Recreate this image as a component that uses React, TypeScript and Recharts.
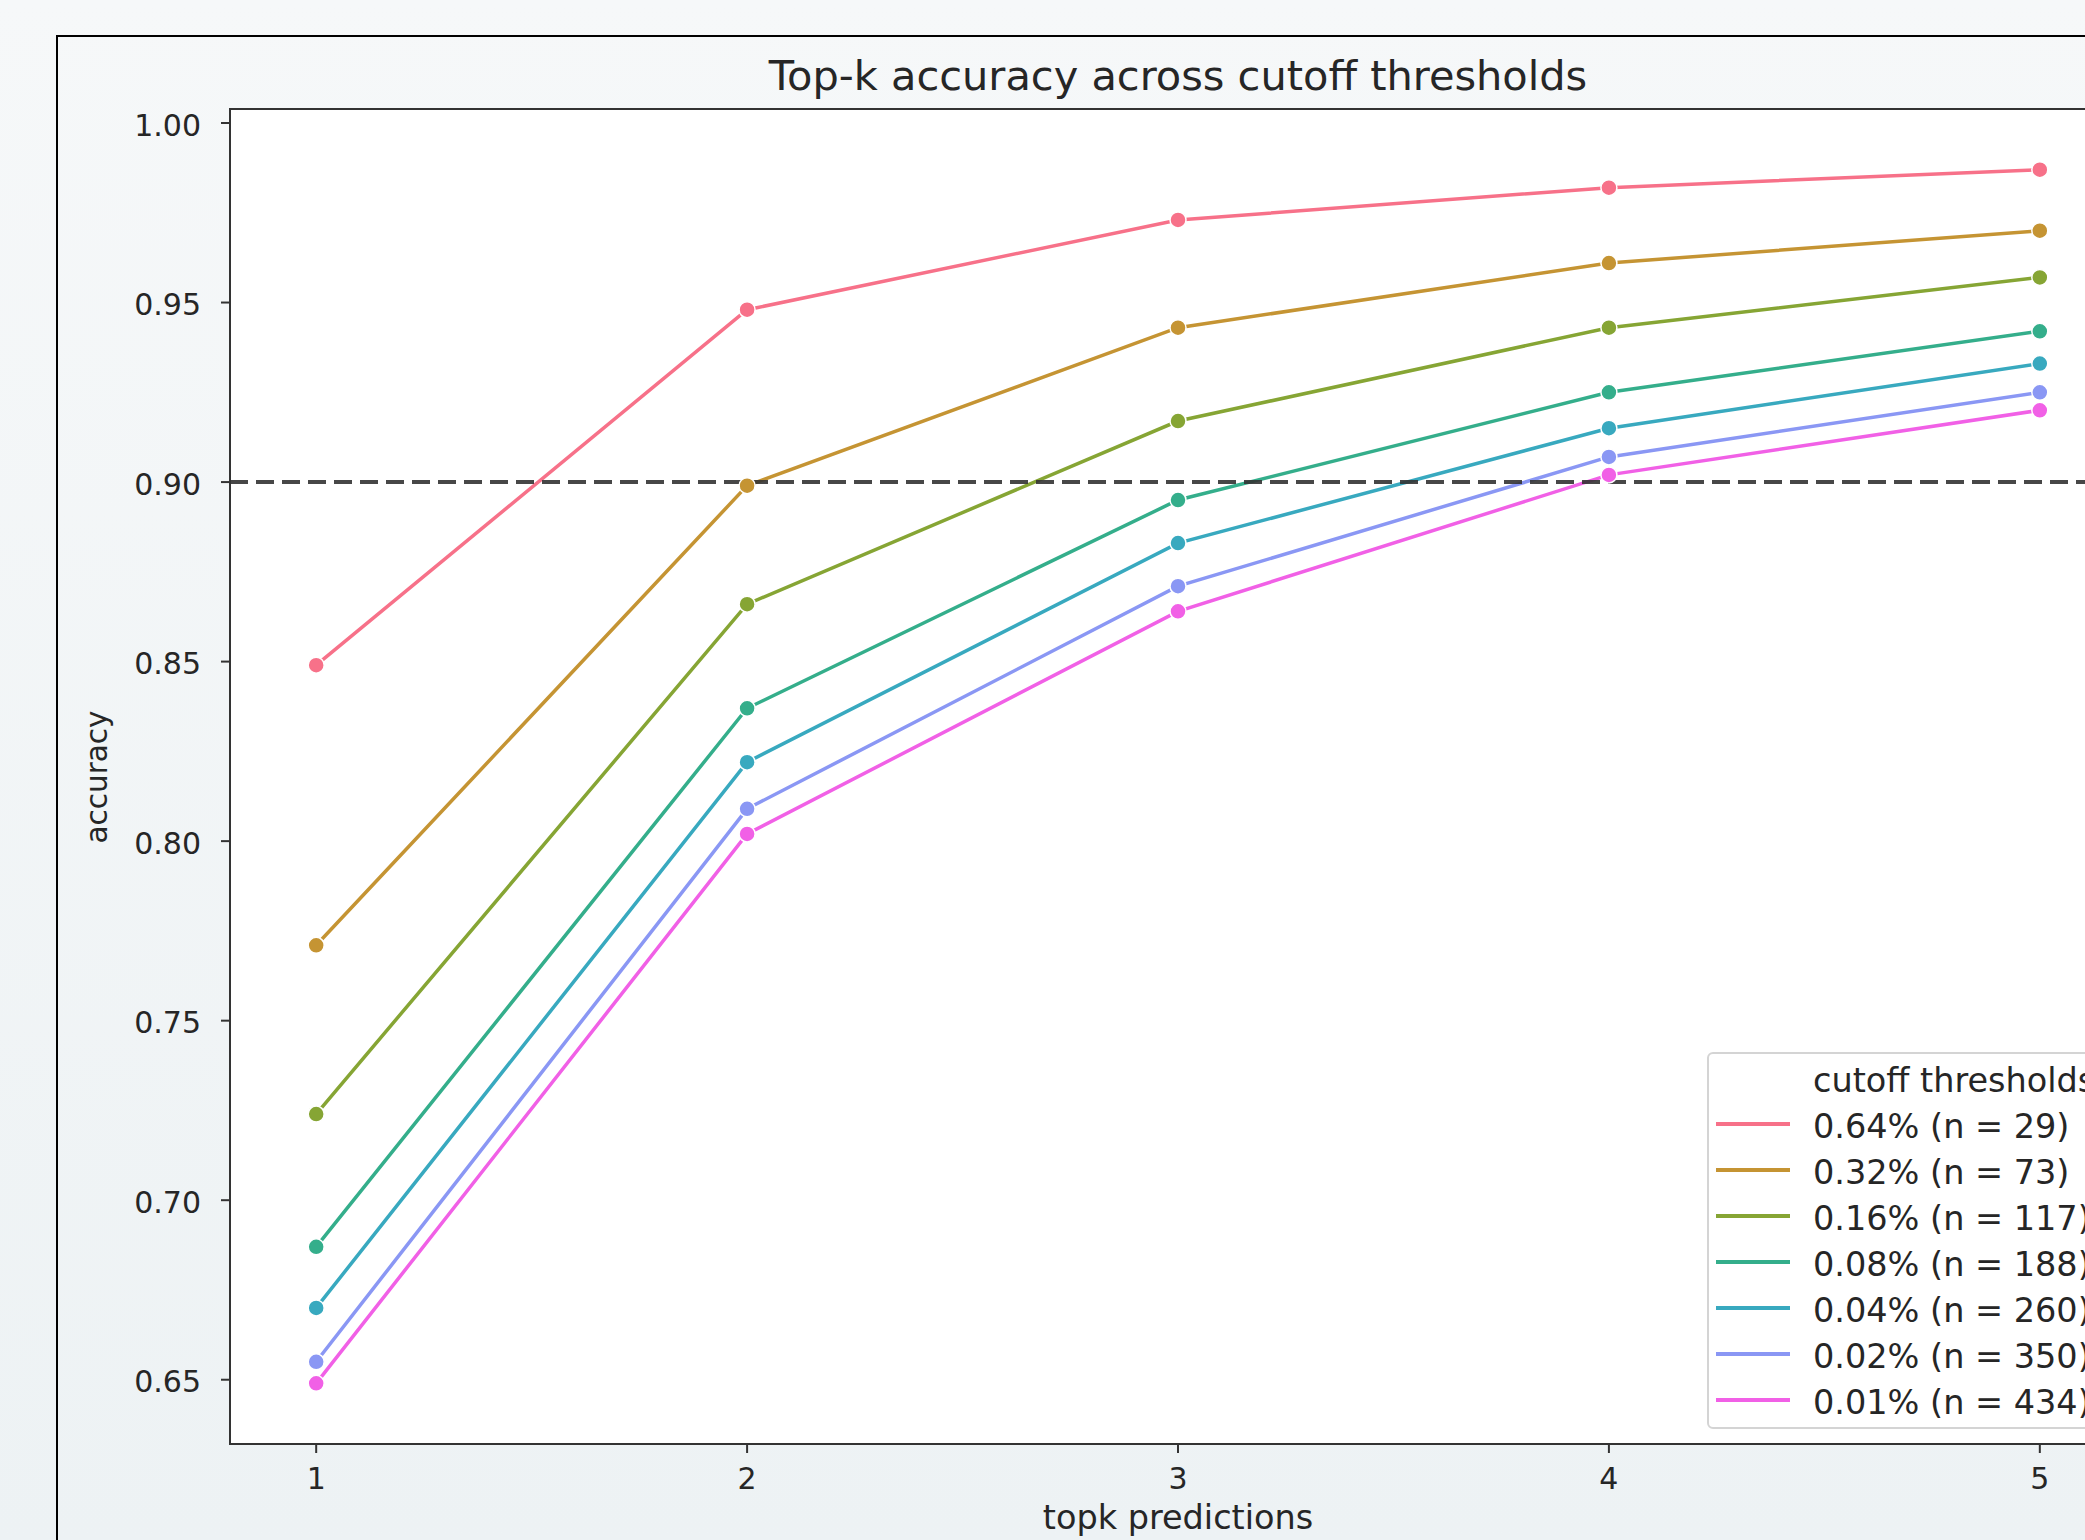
import { Line, LineChart, ReferenceLine, XAxis, YAxis } from 'recharts'

const topk = [1, 2, 3, 4, 5]
const acc064 = [0.849, 0.948, 0.973, 0.982, 0.987]
const acc032 = [0.771, 0.899, 0.943, 0.961, 0.970]
const acc016 = [0.724, 0.866, 0.917, 0.943, 0.957]
const acc008 = [0.687, 0.837, 0.895, 0.925, 0.942]
const acc004 = [0.670, 0.822, 0.883, 0.915, 0.933]
const acc002 = [0.655, 0.809, 0.871, 0.907, 0.925]
const acc001 = [0.649, 0.802, 0.864, 0.902, 0.920]
const thresholdLabels = [
  '0.64% (n = 29)',
  '0.32% (n = 73)',
  '0.16% (n = 117)',
  '0.08% (n = 188)',
  '0.04% (n = 260)',
  '0.02% (n = 350)',
  '0.01% (n = 434)',
]
const yTicks = [0.65, 0.7, 0.75, 0.8, 0.85, 0.9, 0.95, 1.0]
const targetAccuracy = 0.9

const FONT = 'DejaVu Sans'
const TEXT = '#262626'

const series = [
  { key: 't064', values: acc064, color: '#f77189' },
  { key: 't032', values: acc032, color: '#c59433' },
  { key: 't016', values: acc016, color: '#86a534' },
  { key: 't008', values: acc008, color: '#34ae8b' },
  { key: 't004', values: acc004, color: '#38a9bf' },
  { key: 't002', values: acc002, color: '#8a97f4' },
  { key: 't001', values: acc001, color: '#f160e6' },
]

const data = topk.map((k, i) => {
  const row: Record<string, number> = { k }
  series.forEach((s) => {
    row[s.key] = s.values[i]
  })
  return row
})

// legend box runs past the right edge of the screenshot, like the reference
function ThresholdLegend() {
  return (
    <div
      style={{
        position: 'absolute',
        left: 1707,
        top: 1052,
        width: 500,
        height: 377,
        boxSizing: 'border-box',
        border: '2px solid #d4d4d4',
        borderRadius: 6,
        background: 'rgba(255,255,255,0.85)',
        paddingTop: 3,
        fontFamily: FONT,
        fontSize: 33.5,
        color: TEXT,
        whiteSpace: 'nowrap',
      }}
    >
      <div style={{ height: 46, display: 'flex', alignItems: 'center', paddingLeft: 104 }}>cutoff thresholds</div>
      {series.map((s, i) => (
        <div key={s.key} style={{ height: 46, display: 'flex', alignItems: 'center' }}>
          <span style={{ marginLeft: 7, width: 74, height: 4, background: s.color, marginTop: -4 }} />
          <span style={{ marginLeft: 23 }}>{thresholdLabels[i]}</span>
        </div>
      ))}
    </div>
  )
}

export default function App() {
  return (
    <div
      style={{
        position: 'fixed',
        left: 0,
        top: 0,
        width: 2085,
        height: 1540,
        overflow: 'hidden',
        background: 'linear-gradient(to bottom, #f6f8f9, #edf2f4)',
      }}
    >
      {/* outer frame, cut off at right and bottom */}
      <div style={{ position: 'absolute', left: 56, top: 35, width: 2200, height: 1600, borderLeft: '2px solid #000', borderTop: '2px solid #000' }} />
      {/* plot area with spines */}
      <div style={{ position: 'absolute', left: 229, top: 108, width: 2000, height: 1337, boxSizing: 'border-box', background: '#fff', border: '2px solid #333' }} />

      <div style={{ position: 'absolute', left: 0, top: 0 }}>
        <LineChart width={2200} height={1540} data={data} margin={{ top: 109, right: 74, bottom: 0, left: 0 }}>
          <XAxis
            type="number"
            dataKey="k"
            domain={[0.8, 5.2]}
            ticks={topk}
            allowDataOverflow
            axisLine={false}
            tickLine={{ stroke: '#333', strokeWidth: 2 }}
            tickSize={9}
            tickMargin={15}
            height={96}
            tick={{ fill: TEXT, fontSize: 30, fontFamily: FONT }}
          />
          <YAxis
            type="number"
            domain={[0.6321, 1.0039]}
            ticks={yTicks}
            allowDataOverflow
            tickFormatter={(v: number) => v.toFixed(2)}
            axisLine={false}
            tickLine={{ stroke: '#333', strokeWidth: 2 }}
            tickSize={9}
            tickMargin={20}
            width={230}
            tick={{ fill: TEXT, fontSize: 30, fontFamily: FONT, dy: 2 }}
          />
          {series.map((s) => (
            <Line
              key={s.key}
              dataKey={s.key}
              stroke={s.color}
              strokeWidth={3.5}
              dot={{ r: 8, fill: s.color, stroke: '#fff', strokeWidth: 1.5 }}
              isAnimationActive={false}
            />
          ))}
          <ReferenceLine y={targetAccuracy} stroke="#333" strokeOpacity={0.9} strokeWidth={4} strokeDasharray="18 8" />
        </LineChart>
      </div>

      <svg width={2085} height={1540} style={{ position: 'absolute', left: 0, top: 0, pointerEvents: 'none' }}>
        <text x={1178} y={90} textAnchor="middle" fontFamily={FONT} fontSize={41.5} fill={TEXT}>
          Top-k accuracy across cutoff thresholds
        </text>
        <text x={1178} y={1529} textAnchor="middle" fontFamily={FONT} fontSize={33.5} fill={TEXT}>
          topk predictions
        </text>
        <text
          x={97}
          y={777}
          textAnchor="middle"
          dominantBaseline="central"
          transform="rotate(-90 97 777)"
          fontFamily={FONT}
          fontSize={29.5}
          fill={TEXT}
        >
          accuracy
        </text>
      </svg>

      <ThresholdLegend />
    </div>
  )
}
